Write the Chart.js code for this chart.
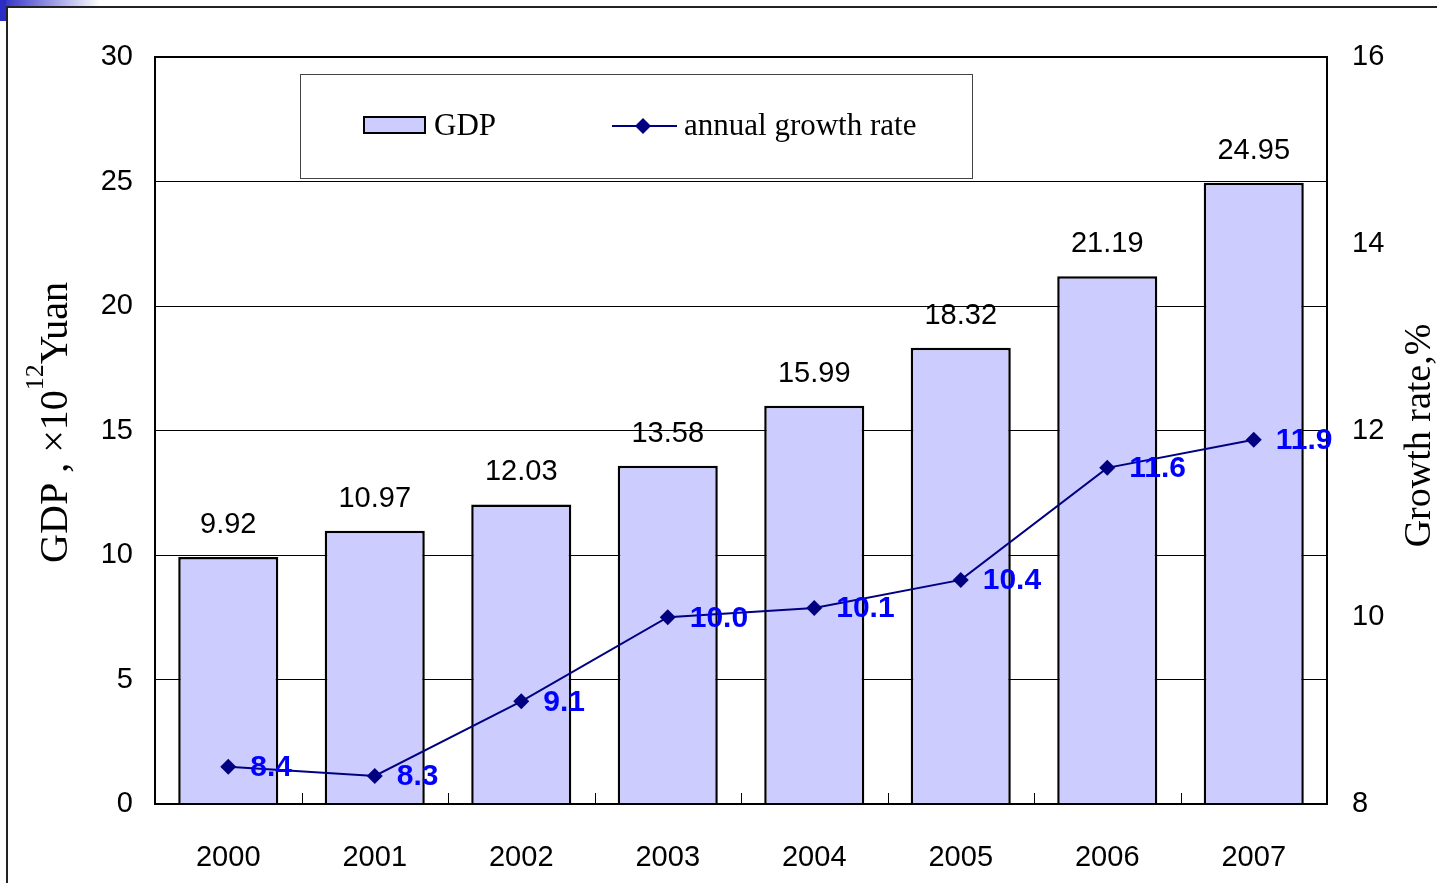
<!DOCTYPE html>
<html>
<head>
<meta charset="utf-8">
<title>GDP and annual growth rate, 2000-2007</title>
<script src="https://cdn.jsdelivr.net/npm/chart.js@4.4.1/dist/chart.umd.min.js"></script>
<style>
  html, body { margin: 0; padding: 0; background: #fff; }
  #wrap { position: relative; width: 1437px; height: 883px; }
  canvas { display: block; }
</style>
</head>
<body>
<div id="wrap"><canvas id="c" width="1437" height="883"></canvas></div>
<script>
// Years on the category axis
const years = ['2000', '2001', '2002', '2003', '2004', '2005', '2006', '2007'];
// GDP, 10^12 Yuan
const gdp = [9.92, 10.97, 12.03, 13.58, 15.99, 18.32, 21.19, 24.95];
// Annual growth rate, %
const growth = [8.4, 8.3, 9.1, 10.0, 10.1, 10.4, 11.6, 11.9];
// Axis tick values
const gdpTicks = [0, 5, 10, 15, 20, 25, 30];
const rateTicks = [8, 10, 12, 14, 16];

const SANS = 'Arial, "Liberation Sans", sans-serif';
const SERIF = '"Times New Roman", "Liberation Serif", serif';

// Slide frame: blue corner mark and thin border lines
const framePlugin = {
  id: 'frame',
  beforeDraw(chart) {
    const ctx = chart.ctx;
    ctx.save();
    ctx.fillStyle = '#fff';
    ctx.fillRect(0, 0, chart.width, chart.height);
    const g = ctx.createLinearGradient(0, 0, 100, 0);
    g.addColorStop(0, '#2b2bc6');
    g.addColorStop(1, 'rgba(43,43,198,0)');
    ctx.fillStyle = g;
    ctx.fillRect(0, 0, 100, 6);
    ctx.fillStyle = '#2b2bc6';
    ctx.fillRect(0, 0, 6, 21);
    ctx.fillStyle = '#222';
    ctx.fillRect(6, 6, chart.width - 6, 2);
    ctx.fillRect(6, 6, 2, chart.height - 6);
    ctx.restore();
  }
};

// Plot frame, inner category ticks, value labels, axis titles and legend box
const decorPlugin = {
  id: 'decor',
  afterDatasetsDraw(chart) {
    const ctx = chart.ctx;
    const a = chart.chartArea;
    const xs = chart.scales.x;
    ctx.save();

    // plot border
    ctx.strokeStyle = '#000';
    ctx.lineWidth = 2;
    ctx.strokeRect(a.left, a.top, a.right - a.left, a.bottom - a.top);

    // short ticks between categories, pointing into the plot
    ctx.lineWidth = 1;
    for (let i = 1; i < years.length; i++) {
      const x = Math.round((xs.getPixelForValue(i - 1) + xs.getPixelForValue(i)) / 2) + 0.5;
      ctx.beginPath();
      ctx.moveTo(x, a.bottom);
      ctx.lineTo(x, a.bottom - 11);
      ctx.stroke();
    }

    // GDP value labels above bars
    const barMeta = chart.getDatasetMeta(0);
    ctx.fillStyle = '#000';
    ctx.font = '29px ' + SANS;
    ctx.textAlign = 'center';
    ctx.textBaseline = 'alphabetic';
    barMeta.data.forEach((bar, i) => {
      ctx.fillText(gdp[i].toFixed(2), bar.x, bar.y - 24);
    });

    // growth-rate labels to the right of points
    const lineMeta = chart.getDatasetMeta(1);
    ctx.fillStyle = '#0000ff';
    ctx.font = 'bold 30px ' + SANS;
    ctx.textAlign = 'left';
    ctx.textBaseline = 'middle';
    lineMeta.data.forEach((pt, i) => {
      ctx.fillText(growth[i].toFixed(1), pt.x + 22, pt.y + 1);
    });

    // left axis title: GDP , ×10^12 Yuan
    ctx.fillStyle = '#000';
    ctx.textAlign = 'left';
    ctx.textBaseline = 'alphabetic';
    const yc = (a.top + a.bottom) / 2 - 8;
    ctx.translate(67, yc);
    ctx.rotate(-Math.PI / 2);
    const big = '40px ' + SERIF, small = '26px ' + SERIF;
    const parts = [
      { t: 'GDP', f: big, dy: 0 },
      { t: ' , ', f: big, dy: 0 },
      { t: '\u00d710', f: big, dy: 0 },
      { t: '12', f: small, dy: -24 },
      { t: 'Yuan', f: big, dy: 0 }
    ];
    let total = 0;
    parts.forEach(p => { ctx.font = p.f; p.w = ctx.measureText(p.t).width; total += p.w; });
    let x = -total / 2;
    parts.forEach(p => { ctx.font = p.f; ctx.fillText(p.t, x, p.dy); x += p.w; });
    ctx.setTransform(1, 0, 0, 1, 0, 0);

    // right axis title
    ctx.translate(1430, (a.top + a.bottom) / 2 + 5);
    ctx.rotate(-Math.PI / 2);
    ctx.font = '38px ' + SERIF;
    ctx.textAlign = 'center';
    ctx.fillText('Growth rate,%', 0, 0);
    ctx.setTransform(1, 0, 0, 1, 0, 0);

    // legend box
    const ds = chart.data.datasets;
    ctx.fillStyle = '#fff';
    ctx.fillRect(300, 74, 672, 104);
    ctx.strokeStyle = '#444';
    ctx.lineWidth = 1;
    ctx.strokeRect(300.5, 74.5, 672, 104);

    ctx.fillStyle = ds[0].backgroundColor;
    ctx.fillRect(364, 117, 61, 16);
    ctx.strokeStyle = ds[0].borderColor;
    ctx.lineWidth = 2;
    ctx.strokeRect(364, 117, 61, 16);

    ctx.strokeStyle = ds[1].borderColor;
    ctx.lineWidth = 2;
    ctx.beginPath();
    ctx.moveTo(612, 126);
    ctx.lineTo(677, 126);
    ctx.stroke();
    ctx.fillStyle = ds[1].pointBackgroundColor;
    ctx.beginPath();
    ctx.moveTo(643, 118); ctx.lineTo(651, 126); ctx.lineTo(643, 134); ctx.lineTo(635, 126);
    ctx.closePath();
    ctx.fill();

    ctx.fillStyle = '#000';
    ctx.font = '31px ' + SERIF;
    ctx.textAlign = 'left';
    ctx.textBaseline = 'alphabetic';
    ctx.fillText(ds[0].label, 434, 135);
    ctx.fillText(ds[1].label, 684, 135);

    ctx.restore();
  }
};

new Chart(document.getElementById('c'), {
  data: {
    labels: years,
    datasets: [
      {
        type: 'bar',
        label: 'GDP',
        data: gdp,
        yAxisID: 'y',
        backgroundColor: '#ccccff',
        borderColor: '#000',
        borderWidth: 2.5,
        borderSkipped: 'bottom',
        categoryPercentage: 1,
        barPercentage: 0.683,
        order: 2
      },
      {
        type: 'line',
        label: 'annual growth rate',
        data: growth,
        yAxisID: 'y1',
        borderColor: '#000080',
        borderWidth: 2,
        pointStyle: 'rectRot',
        pointRadius: 8,
        pointBackgroundColor: '#000080',
        pointBorderColor: '#000080',
        pointBorderWidth: 0,
        tension: 0,
        order: 1
      }
    ]
  },
  options: {
    responsive: false,
    animation: false,
    events: [],
    layout: { padding: { top: 57, left: 0, right: 0, bottom: 0 } },
    plugins: {
      legend: { display: false },
      tooltip: { enabled: false },
      title: { display: false }
    },
    scales: {
      x: {
        type: 'category',
        grid: { display: false, drawTicks: false },
        border: { display: false },
        ticks: { color: '#000', font: { family: SANS, size: 29 }, padding: 37, maxRotation: 0 },
        afterFit(s) { s.height = 79; }
      },
      y: {
        position: 'left',
        min: 0, max: 30,
        afterBuildTicks(s) { s.ticks = gdpTicks.map(v => ({ value: v })); },
        grid: { color: '#000', lineWidth: 1, drawTicks: false },
        border: { display: false },
        ticks: { color: '#000', font: { family: SANS, size: 29 }, padding: 22 },
        afterFit(s) { s.width = 155; }
      },
      y1: {
        position: 'right',
        min: 8, max: 16,
        afterBuildTicks(s) { s.ticks = rateTicks.map(v => ({ value: v })); },
        grid: { drawOnChartArea: false, drawTicks: false },
        border: { display: false },
        ticks: { color: '#000', font: { family: SANS, size: 29 }, padding: 25 },
        afterFit(s) { s.width = 110; }
      }
    }
  },
  plugins: [framePlugin, decorPlugin]
});
</script>
</body>
</html>
